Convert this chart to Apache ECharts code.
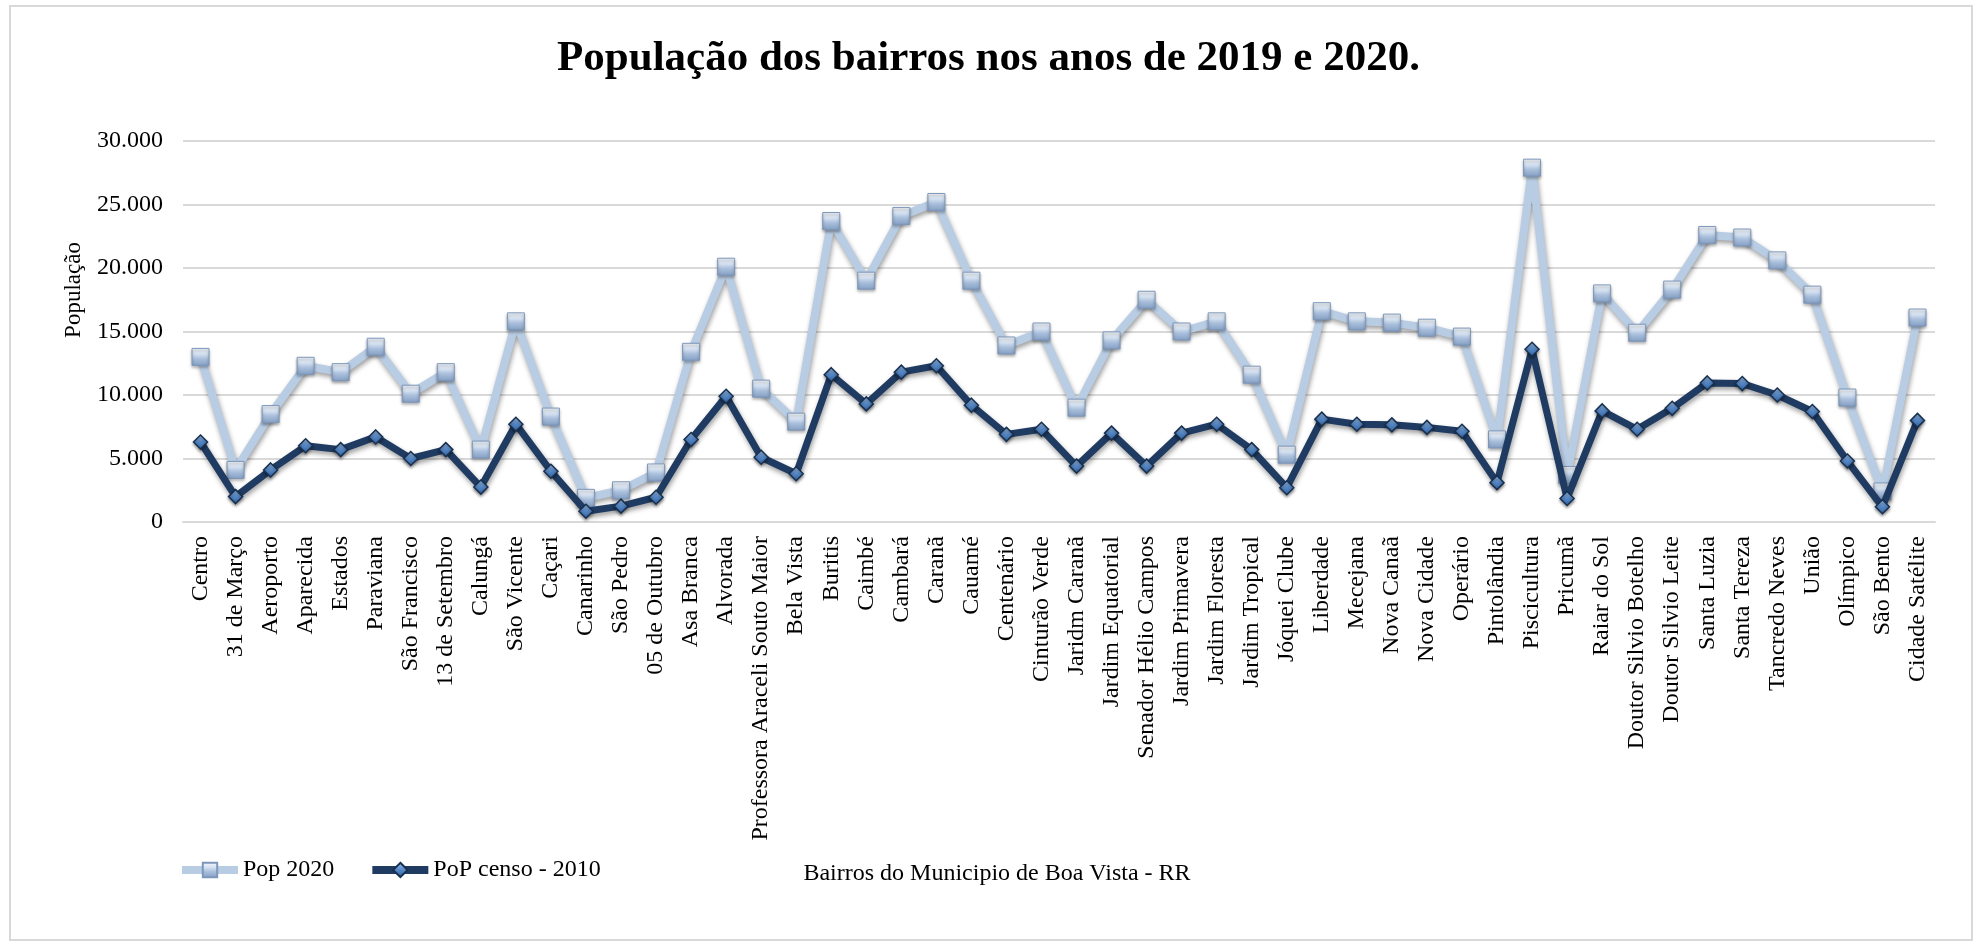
<!DOCTYPE html>
<html lang="pt-BR">
<head>
<meta charset="utf-8">
<title>População dos bairros nos anos de 2019 e 2020.</title>
<script src="https://cdn.jsdelivr.net/npm/echarts@6/dist/echarts.min.js"></script>
<style>
  html, body { margin: 0; padding: 0; background: #ffffff; }
  #chart { width: 1977px; height: 947px; }
</style>
</head>
<body>
<div id="chart"></div>
<script>
// Bairros de Boa Vista - RR
const categories = [
  'Centro', '31 de Março', 'Aeroporto', 'Aparecida', 'Estados', 'Paraviana',
  'São Francisco', '13 de Setembro', 'Calungá', 'São Vicente', 'Caçari',
  'Canarinho', 'São Pedro', '05 de Outubro', 'Asa Branca', 'Alvorada',
  'Professora Araceli Souto Maior', 'Bela Vista', 'Buritis', 'Caimbé',
  'Cambará', 'Caranã', 'Cauamé', 'Centenário', 'Cinturão Verde',
  'Jaridm Caranã', 'Jardim Equatorial', 'Senador Hélio Campos',
  'Jardim Primavera', 'Jardim Floresta', 'Jardim Tropical', 'Jóquei Clube',
  'Liberdade', 'Mecejana', 'Nova Canaã', 'Nova Cidade', 'Operário',
  'Pintolândia', 'Piscicultura', 'Pricumã', 'Raiar do Sol',
  'Doutor Silvio Botelho', 'Doutor Silvio Leite', 'Santa Luzia',
  'Santa Tereza', 'Tancredo Neves', 'União', 'Olímpico', 'São Bento',
  'Cidade Satélite'
];

// População estimada 2020
const pop2020 = [
  13000, 4100, 8500, 12300, 11800, 13800, 10100, 11800, 5700, 15800,
  8300, 1900, 2500, 3900, 13400, 20100, 10500, 7900, 23700, 19000,
  24100, 25200, 19000, 13900, 15000, 9000, 14300, 17500, 15000, 15800,
  11600, 5300, 16600, 15800, 15700, 15300, 14600, 6500, 27900, 3700,
  18000, 14900, 18300, 22600, 22400, 20600, 17900, 9800, 2400, 16100
];

// População do censo 2010
const pop2010 = [
  6300, 2000, 4100, 6000, 5700, 6700, 5000, 5700, 2750, 7700,
  4000, 850, 1250, 1950, 6500, 9900, 5100, 3800, 11600, 9300,
  11800, 12300, 9200, 6900, 7300, 4400, 7000, 4400, 7000, 7700,
  5700, 2700, 8100, 7700, 7650, 7450, 7150, 3100, 13600, 1850,
  8750, 7300, 8950, 10950, 10900, 10000, 8700, 4800, 1200, 8000
];

const seriesNames = ['Pop 2020', 'PoP censo - 2010'];
const yTickLabels = ['0', '5.000', '10.000', '15.000', '20.000', '25.000', '30.000'];
const titleText = 'População dos bairros nos anos de 2019 e 2020.';
const yAxisTitle = 'População';
const xAxisTitle = 'Bairros do Municipio de Boa Vista - RR';

const serif = '"Liberation Serif", "Times New Roman", Times, serif';
const yStep = 5000;

const lightLine = '#b8cce4';
const darkLine = '#1f3b62';

const chart = echarts.init(document.getElementById('chart'), null, { renderer: 'canvas' });

// bevelled square / diamond fills
const lightMarker = {
  type: 'linear', x: 0, y: 0, x2: 0, y2: 1,
  colorStops: [
    { offset: 0, color: '#f7fafd' },
    { offset: 0.35, color: '#d3e0f0' },
    { offset: 0.6, color: '#a9bfdc' },
    { offset: 1, color: '#849fc3' }
  ]
};
const darkMarker = {
  type: 'linear', x: 0, y: 0, x2: 0, y2: 1,
  colorStops: [
    { offset: 0, color: '#a8c8f0' },
    { offset: 0.5, color: '#5689c8' },
    { offset: 1, color: '#2d5b97' }
  ]
};

const lineShadow = {
  shadowColor: 'rgba(0,0,0,0.38)', shadowBlur: 5, shadowOffsetX: 1, shadowOffsetY: 3
};

chart.setOption({
  animation: false,
  backgroundColor: '#ffffff',
  textStyle: { fontFamily: serif, color: '#000000' },
  title: {
    text: titleText,
    left: 'center',
    top: 32,
    textStyle: { fontFamily: serif, fontSize: 43, fontWeight: 'bold', color: '#000000' }
  },
  legend: {
    data: [
      { name: seriesNames[0], lineStyle: { width: 8, color: lightLine } },
      { name: seriesNames[1], lineStyle: { width: 8, color: darkLine } }
    ],
    left: 178,
    top: 858,
    padding: 0,
    itemWidth: 56,
    itemHeight: 18,
    itemGap: 34,
    textStyle: { fontFamily: serif, fontSize: 24, color: '#000000' }
  },
  grid: { left: 183, right: 42, top: 141, bottom: 425, containLabel: false },
  xAxis: {
    type: 'category',
    data: categories,
    boundaryGap: true,
    axisLine: { show: true, lineStyle: { color: '#d9d9d9', width: 2 } },
    axisTick: { show: false },
    axisLabel: {
      interval: 0,
      rotate: 90,
      margin: 14,
      fontFamily: serif,
      fontSize: 24,
      color: '#000000'
    }
  },
  yAxis: {
    type: 'value',
    min: 0,
    max: 30000,
    interval: yStep,
    axisLine: { show: false },
    axisTick: { show: false },
    splitLine: { lineStyle: { color: '#d9d9d9', width: 2 } },
    axisLabel: {
      margin: 20,
      fontFamily: serif,
      fontSize: 24,
      color: '#000000',
      formatter: v => yTickLabels[Math.round(v / yStep)]
    }
  },
  graphic: [
    {
      type: 'rect',
      shape: { x: 10, y: 6, width: 1962, height: 934 },
      style: { fill: 'none', stroke: '#d9d9d9', lineWidth: 2 },
      silent: true, z: -1
    },
    {
      type: 'text',
      x: 74, y: 290,
      rotation: Math.PI / 2,
      style: {
        text: yAxisTitle, fontFamily: serif, fontSize: 23, fill: '#000000',
        textAlign: 'center', textVerticalAlign: 'middle'
      },
      silent: true
    },
    {
      type: 'text',
      x: 997, y: 874,
      style: {
        text: xAxisTitle, fontFamily: serif, fontSize: 24, fill: '#000000',
        textAlign: 'center', textVerticalAlign: 'middle'
      },
      silent: true
    }
  ],
  series: [
    {
      name: seriesNames[0],
      type: 'line',
      data: pop2020,
      symbol: 'rect',
      symbolSize: 17,
      lineStyle: Object.assign({ color: lightLine, width: 8 }, lineShadow),
      itemStyle: {
        color: lightMarker, borderColor: '#7d97bb', borderWidth: 1,
        shadowColor: 'rgba(0,0,0,0.35)', shadowBlur: 3, shadowOffsetY: 2
      },
      z: 2
    },
    {
      name: seriesNames[1],
      type: 'line',
      data: pop2010,
      symbol: 'diamond',
      symbolSize: 14,
      lineStyle: Object.assign({ color: darkLine, width: 7 }, lineShadow),
      itemStyle: {
        color: darkMarker, borderColor: '#18304f', borderWidth: 1.5,
        shadowColor: 'rgba(0,0,0,0.35)', shadowBlur: 3, shadowOffsetY: 2
      },
      z: 3
    }
  ]
});
</script>
</body>
</html>
